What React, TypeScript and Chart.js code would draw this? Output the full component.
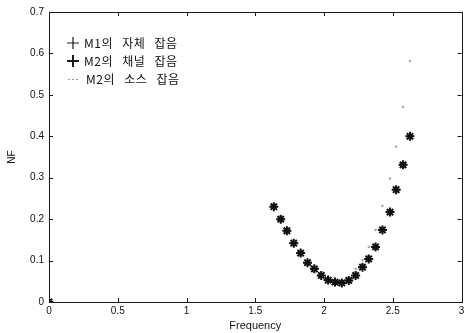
import React, { useEffect, useRef } from "react";
import { Chart, registerables } from "chart.js";

Chart.register(...registerables);

const frequency = [0, 1.635, 1.685, 1.73, 1.78, 1.83, 1.88, 1.93, 1.98, 2.03, 2.08, 2.13, 2.18, 2.23, 2.28, 2.325, 2.375, 2.425, 2.48, 2.525, 2.575, 2.625];
const m1SelfNoise = [0, 0.23, 0.2, 0.172, 0.142, 0.118, 0.095, 0.08, 0.064, 0.053, 0.048, 0.046, 0.052, 0.064, 0.084, 0.104, 0.133, 0.174, 0.217, 0.271, 0.331, 0.4];
const m2ChannelNoise = [0, 0.23, 0.2, 0.172, 0.142, 0.118, 0.095, 0.08, 0.064, 0.053, 0.048, 0.046, 0.052, 0.064, 0.084, 0.104, 0.133, 0.174, 0.217, 0.271, 0.331, 0.4];
const m2SourceNoise = [0, 0.232, 0.202, 0.174, 0.144, 0.12, 0.097, 0.082, 0.066, 0.055, 0.05, 0.049, 0.056, 0.08, 0.101, 0.133, 0.174, 0.232, 0.298, 0.375, 0.471, 0.582];
const seriesLabels = ["M1의 자체 잡음", "M2의 채널 잡음", "M2의 소스 잡음"];
const xTickValues = [0, 0.5, 1, 1.5, 2, 2.5, 3];
const xTickLabels = ["0", "0.5", "1", "1.5", "2", "2.5", "3"];
const yTickValues = [0, 0.1, 0.2, 0.3, 0.4, 0.5, 0.6, 0.7];
const yTickLabels = ["0", "0.1", "0.2", "0.3", "0.4", "0.5", "0.6", "0.7"];
const xTitle = "Frequency";
const yTitle = "NF";

const toPoints = (ys: number[]) => frequency.map((f, i) => ({ x: f, y: ys[i] }));

const framePlugin = {
  id: "frame",
  afterDraw(chart: any) {
    const { ctx, chartArea, scales } = chart;
    const { left, right, top, bottom } = chartArea;
    const x = scales.x;
    const y = scales.y;
    ctx.save();
    ctx.strokeStyle = "#1a1a1a";
    ctx.lineWidth = 1;
    ctx.strokeRect(Math.round(left) + 0.5, Math.round(top) + 0.5, Math.round(right - left), Math.round(bottom - top));
    const t = 4;
    ctx.beginPath();
    xTickValues.forEach((v) => {
      const px = Math.round(x.getPixelForValue(v)) + 0.5;
      ctx.moveTo(px, bottom);
      ctx.lineTo(px, bottom - t);
      ctx.moveTo(px, top);
      ctx.lineTo(px, top + t);
    });
    yTickValues.forEach((v) => {
      const py = Math.round(y.getPixelForValue(v)) + 0.5;
      ctx.moveTo(left, py);
      ctx.lineTo(left + t, py);
      ctx.moveTo(right, py);
      ctx.lineTo(right - t, py);
    });
    ctx.stroke();

    // legend (box off)
    const lx = left + 24;
    const rows = [top + 31, top + 49, top + 67];
    ctx.font = '12px "Noto Sans CJK KR"';
    try {
      ctx.letterSpacing = "0.5px";
      ctx.wordSpacing = "6px";
    } catch (e) {}
    ctx.fillStyle = "#111";
    ctx.textBaseline = "middle";
    ctx.textAlign = "left";
    ctx.lineWidth = 1.2;
    ctx.beginPath();
    ctx.moveTo(lx - 6, rows[0]);
    ctx.lineTo(lx + 6, rows[0]);
    ctx.moveTo(lx, rows[0] - 6);
    ctx.lineTo(lx, rows[0] + 6);
    ctx.stroke();
    ctx.lineWidth = 2;
    ctx.beginPath();
    ctx.moveTo(lx - 6, rows[1]);
    ctx.lineTo(lx + 6, rows[1]);
    ctx.moveTo(lx, rows[1] - 6);
    ctx.lineTo(lx, rows[1] + 6);
    ctx.stroke();
    ctx.fillStyle = "#999";
    [-4, 0, 4].forEach((d) => ctx.fillRect(lx + d - 1, rows[2], 2, 1));
    ctx.fillStyle = "#111";
    ctx.fillText(seriesLabels[0], lx + 11, rows[0]);
    ctx.fillText(seriesLabels[1], lx + 11, rows[1]);
    ctx.fillText(seriesLabels[2], lx + 13, rows[2]);
    ctx.restore();
  },
};

export default function App() {
  const ref = useRef<HTMLCanvasElement | null>(null);
  useEffect(() => {
    document.body.style.margin = "0";
    const canvas = ref.current;
    if (!canvas) return;
    const tickFont = { family: '"Liberation Sans", Arial, sans-serif', size: 10 };
    const chart = new Chart(canvas, {
      type: "scatter",
      data: {
        datasets: [
          {
            label: seriesLabels[0],
            data: toPoints(m1SelfNoise),
            pointStyle: "cross",
            pointRadius: 4,
            borderColor: "#111",
            borderWidth: 1,
            showLine: false,
          },
          {
            label: seriesLabels[1],
            data: toPoints(m2ChannelNoise),
            pointStyle: "star",
            pointRadius: 4.5,
            borderColor: "#111",
            backgroundColor: "#111",
            borderWidth: 2,
            showLine: false,
          },
          {
            label: seriesLabels[2],
            data: toPoints(m2SourceNoise),
            pointStyle: "rect",
            pointRadius: 1,
            borderColor: "#888",
            backgroundColor: "#888",
            borderWidth: 0.5,
            showLine: false,
          },
        ],
      },
      options: {
        animation: false,
        responsive: false,
        layout: { padding: { top: 12, right: 3, left: 0, bottom: 0 } },
        plugins: { legend: { display: false }, tooltip: { enabled: false } },
        scales: {
          x: {
            type: "linear",
            min: 0,
            max: 3,
            afterBuildTicks: (s: any) => {
              s.ticks = xTickValues.map((v) => ({ value: v }));
            },
            afterFit: (s: any) => {
              s.height = 31;
            },
            ticks: {
              font: tickFont,
              color: "#111",
              padding: 3,
              maxRotation: 0,
              autoSkip: false,
              callback: (_v: any, i: number) => xTickLabels[i],
            },
            grid: { display: false, drawTicks: false },
            border: { display: false },
            title: {
              display: true,
              text: xTitle,
              font: { family: '"Liberation Sans", Arial, sans-serif', size: 11 },
              color: "#111",
              padding: { top: 0, bottom: 0 },
            },
          },
          y: {
            type: "linear",
            min: 0,
            max: 0.7,
            afterBuildTicks: (s: any) => {
              s.ticks = yTickValues.map((v) => ({ value: v }));
            },
            afterFit: (s: any) => {
              s.width = 49;
            },
            ticks: {
              font: tickFont,
              color: "#111",
              padding: 5,
              autoSkip: false,
              callback: (_v: any, i: number) => yTickLabels[i],
            },
            grid: { display: false, drawTicks: false },
            border: { display: false },
            title: {
              display: true,
              text: yTitle,
              font: { family: '"Liberation Sans", Arial, sans-serif', size: 10 },
              color: "#111",
              padding: { top: 6, bottom: 0 },
            },
          },
        },
      },
      plugins: [framePlugin],
    });
    return () => chart.destroy();
  }, []);
  return <canvas ref={ref} width={468} height={333} style={{ display: "block" }} />;
}
